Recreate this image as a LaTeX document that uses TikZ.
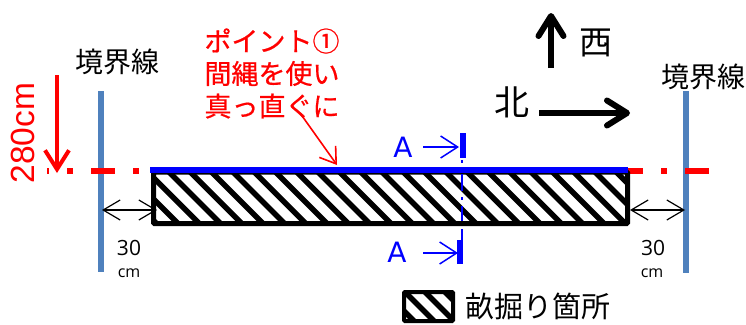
\documentclass[tikz,border=0pt]{standalone}
\usepackage{fontspec}
\setmainfont{Liberation Sans}
\newfontfamily\jp{Noto Sans CJK JP}
\newfontfamily\jpb[FakeBold=0.6]{Noto Sans CJK JP}
\newfontfamily\nt{Open Sans}
\newfontfamily\dv{DejaVu Sans}
\usetikzlibrary{arrows.meta}
\definecolor{bordblue}{HTML}{4F81BD}
\definecolor{pure}{HTML}{0000FF}
\definecolor{redd}{HTML}{FF0000}
\tikzset{
  x=1pt,y=-1pt,
  txt/.style={inner sep=0pt,outer sep=0pt,font=\jp\fontsize{#1}{#1}\selectfont},
  redtxt/.style={inner sep=0pt,outer sep=0pt,font=\jpb\fontsize{#1}{#1}\selectfont,text=redd},
  latin/.style={inner sep=0pt,outer sep=0pt,font=\nt\fontsize{#1}{#1}\selectfont},
  sectlabel/.style={inner sep=0pt,outer sep=0pt,font=\dv\fontsize{28}{28}\selectfont,text=pure},
  boundary/.style={draw=bordblue,line width=6pt},
  reddash/.style={draw=redd,line width=5.5pt},
  bigarrow/.style={draw=black,line width=6pt,-{Straight Barb[length=20pt,width=25pt,line width=6pt,round]}},
  blueopen/.style={draw=pure,line width=1.5pt,-{Straight Barb[length=17pt,width=22pt,line width=1.5pt]}},
  dimarrow/.style={draw=black,line width=1.2pt,{Straight Barb[length=17pt,width=20pt,line width=1.2pt]}-{Straight Barb[length=17pt,width=20pt,line width=1.2pt]}},
  hatchline/.style={draw=black,line width=5.5pt},
  blueline/.style={draw=pure,line width=2pt},
  bluetick/.style={draw=pure,line width=5.5pt},
  framebox/.style={draw=black,rounded corners=1pt,inner sep=0pt,outer sep=0pt,anchor=north west},
}
\begin{document}
\begin{tikzpicture}
\useasboundingbox (0,0) rectangle (746,324);
% coordinates
\coordinate (LT) at (101,91); \coordinate (LB) at (101,272);
\coordinate (RT) at (685.5,91); \coordinate (RB) at (685.5,273);
% boundaries
\draw[boundary] (LT) -- (LB);
\draw[boundary] (RT) -- (RB);
% red dash-dot
\foreach \a/\b in {47/49,67/73,91/115,133/139,628/643,661/667,685/709}
  \draw[reddash] (\a,171) -- (\b,171);
% hatched area
\begin{scope}
\clip (153.5,172) rectangle (627.5,223.5);
\foreach \i in {-3,...,25}
  \draw[hatchline] ({157+\i*21.3},160) -- ({157+\i*21.3+75},235);
\end{scope}
\node[framebox,line width=5pt,minimum width=474pt,minimum height=51.5pt] (pit) at (153.5,172) {};
% blue string line
\draw[draw=pure,line width=6pt] (150,170) -- (628,170);
% section line
\draw[blueline] (462,160) -- (462,163);
\draw[blueline] (462,174) -- (462,191);
\draw[blueline] (462,197) -- (462,200);
\draw[blueline] (462,206) -- (462,221);
\draw[blueline] (462,229) -- (462,262);
\draw[bluetick] (463,133) -- (463,158);
\draw[bluetick] (460,240) -- (460,264);
% A marks
\node[sectlabel] (a1) at (403,147) {A};
\node[sectlabel] (a2) at (397,252) {A};
\coordinate (a1s) at (423,147); \coordinate (a1e) at (459,147);
\coordinate (a2s) at (423,253); \coordinate (a2e) at (458,253);
\draw[blueopen] (a1s) -- (a1e);
\draw[blueopen] (a2s) -- (a2e);
% labels
\node[txt=28] (bl) at (117,62) {境界線};
\node[txt=28] (br) at (703.5,77) {境界線};
\node[redtxt=27] (p1) at (272,41) {ポイント①};
\node[redtxt=27] (p2) at (272,73.5) {間縄を使い};
\node[redtxt=27] (p3) at (272,106) {真っ直ぐに};
\coordinate (ptarget) at (337,165);
\draw[draw=redd,line width=1.6pt,-{Straight Barb[length=15pt,width=20pt,line width=1.6pt]}] ([shift={(28,7)}]p3.center) -- (ptarget);
% 280 cm
\coordinate (hs) at (57,75); \coordinate (he) at (57,173);
\draw[draw=redd,line width=4pt,-{Straight Barb[length=19pt,width=24pt,line width=4pt]}] (hs) -- (he);
\node[rotate=90,text=redd,inner sep=0pt,font=\fontsize{33.5}{33.5}\selectfont] (h) at (23,133) {280cm};
% compass
\coordinate (ws) at (551,68); \coordinate (we) at (551,13);
\draw[bigarrow] (ws) -- (we);
\node[txt=33] (west) at (595.5,43) {西};
\node[txt=35] (north) at (511.5,102) {北};
\coordinate (ns) at (539,113); \coordinate (ne) at (630,113);
\draw[bigarrow] (ns) -- (ne);
% dimensions
\coordinate (d1a) at (102,210); \coordinate (d1b) at (157,210);
\coordinate (d2a) at (630,210); \coordinate (d2b) at (685,210);
\draw[dimarrow] (d1a) -- (d1b);
\draw[dimarrow] (d2a) -- (d2b);
\node[latin=21] (n1) at (129,248) {30};
\node[latin=16] (c1) at (129,273) {cm};
\node[latin=21] (n2) at (653,248) {30};
\node[latin=16] (c2) at (652,273) {cm};
% legend
\begin{scope}
\clip (404,292) rectangle (453,321);
\foreach \i in {-1,...,3}
  \draw[hatchline] ({393+\i*20},280) -- ({393+\i*20+50},330);
\end{scope}
\node[framebox,line width=4pt,minimum width=49pt,minimum height=29pt] (lg) at (404,292) {};
\node[txt=29] (lt) at (538,306) {畝掘り箇所};
\end{tikzpicture}
\end{document}
